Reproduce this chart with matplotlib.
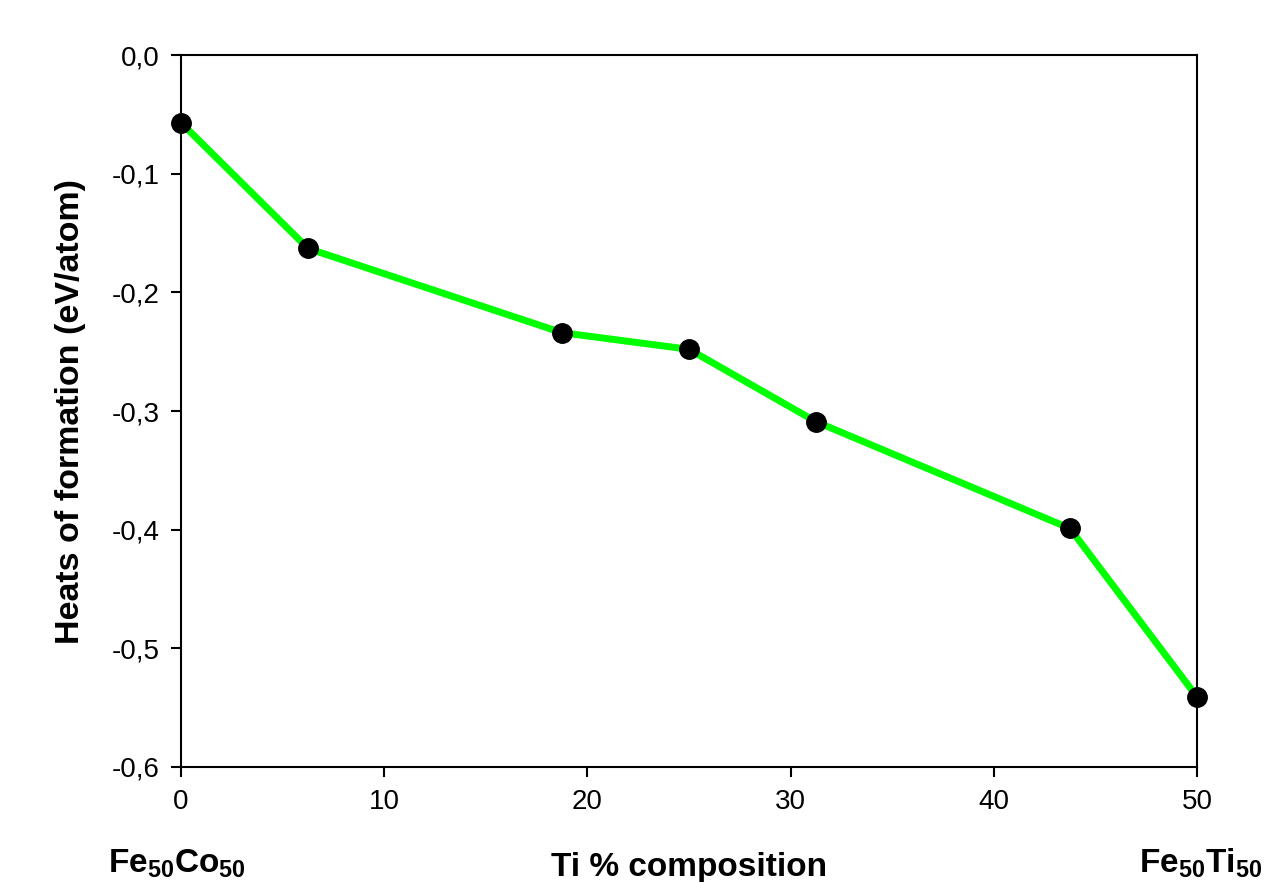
import matplotlib.pyplot as plt
from matplotlib.ticker import FuncFormatter

plt.rcParams['font.family'] = ['Liberation Sans', 'DejaVu Sans']
plt.rcParams['mathtext.fontset'] = 'custom'
plt.rcParams['mathtext.rm'] = 'Liberation Sans'
plt.rcParams['mathtext.bf'] = 'Liberation Sans:bold'

# data
ti_pct = [0, 6.25, 18.75, 25, 31.25, 43.75, 50]
heat = [-0.057, -0.163, -0.234, -0.248, -0.309, -0.399, -0.541]
x_ticks = [0, 10, 20, 30, 40, 50]
y_ticks = [0.0, -0.1, -0.2, -0.3, -0.4, -0.5, -0.6]

fig = plt.figure(figsize=(12.72, 8.82), dpi=100)
ax = fig.add_axes([0.1423, 0.1304, 0.7988, 0.8072])

ax.plot(ti_pct, heat, color='#00ff00', lw=5, zorder=2)
ax.plot(ti_pct, heat, 'o', color='black', ms=14, zorder=3, clip_on=False)

ax.set_xlim(0, 50)
ax.set_ylim(-0.6, 0.0)
ax.set_xticks(x_ticks)
ax.set_yticks(y_ticks)
ax.yaxis.set_major_formatter(FuncFormatter(lambda v, p: f"{v:.1f}".replace('.', ',').replace('-0,0', '0,0')))
ax.tick_params(direction='out', length=7.5, width=1.5, labelsize=20, pad=8)
for s in ax.spines.values():
    s.set_linewidth(1.5)

ax.set_ylabel('Heats of formation (eV/atom)', fontsize=24.5, fontweight='bold', labelpad=18)

fig.text(0.5417, 0.007, 'Ti % composition', fontsize=24, fontweight='bold', ha='center', va='baseline')
fig.text(0.085, 0.011, r'$\mathbf{Fe_{50}Co_{50}}$', fontsize=24, ha='left', va='baseline')
fig.text(0.992, 0.011, r'$\mathbf{Fe_{50}Ti_{50}}$', fontsize=24, ha='right', va='baseline')

fig.savefig('out.png', dpi=100)
